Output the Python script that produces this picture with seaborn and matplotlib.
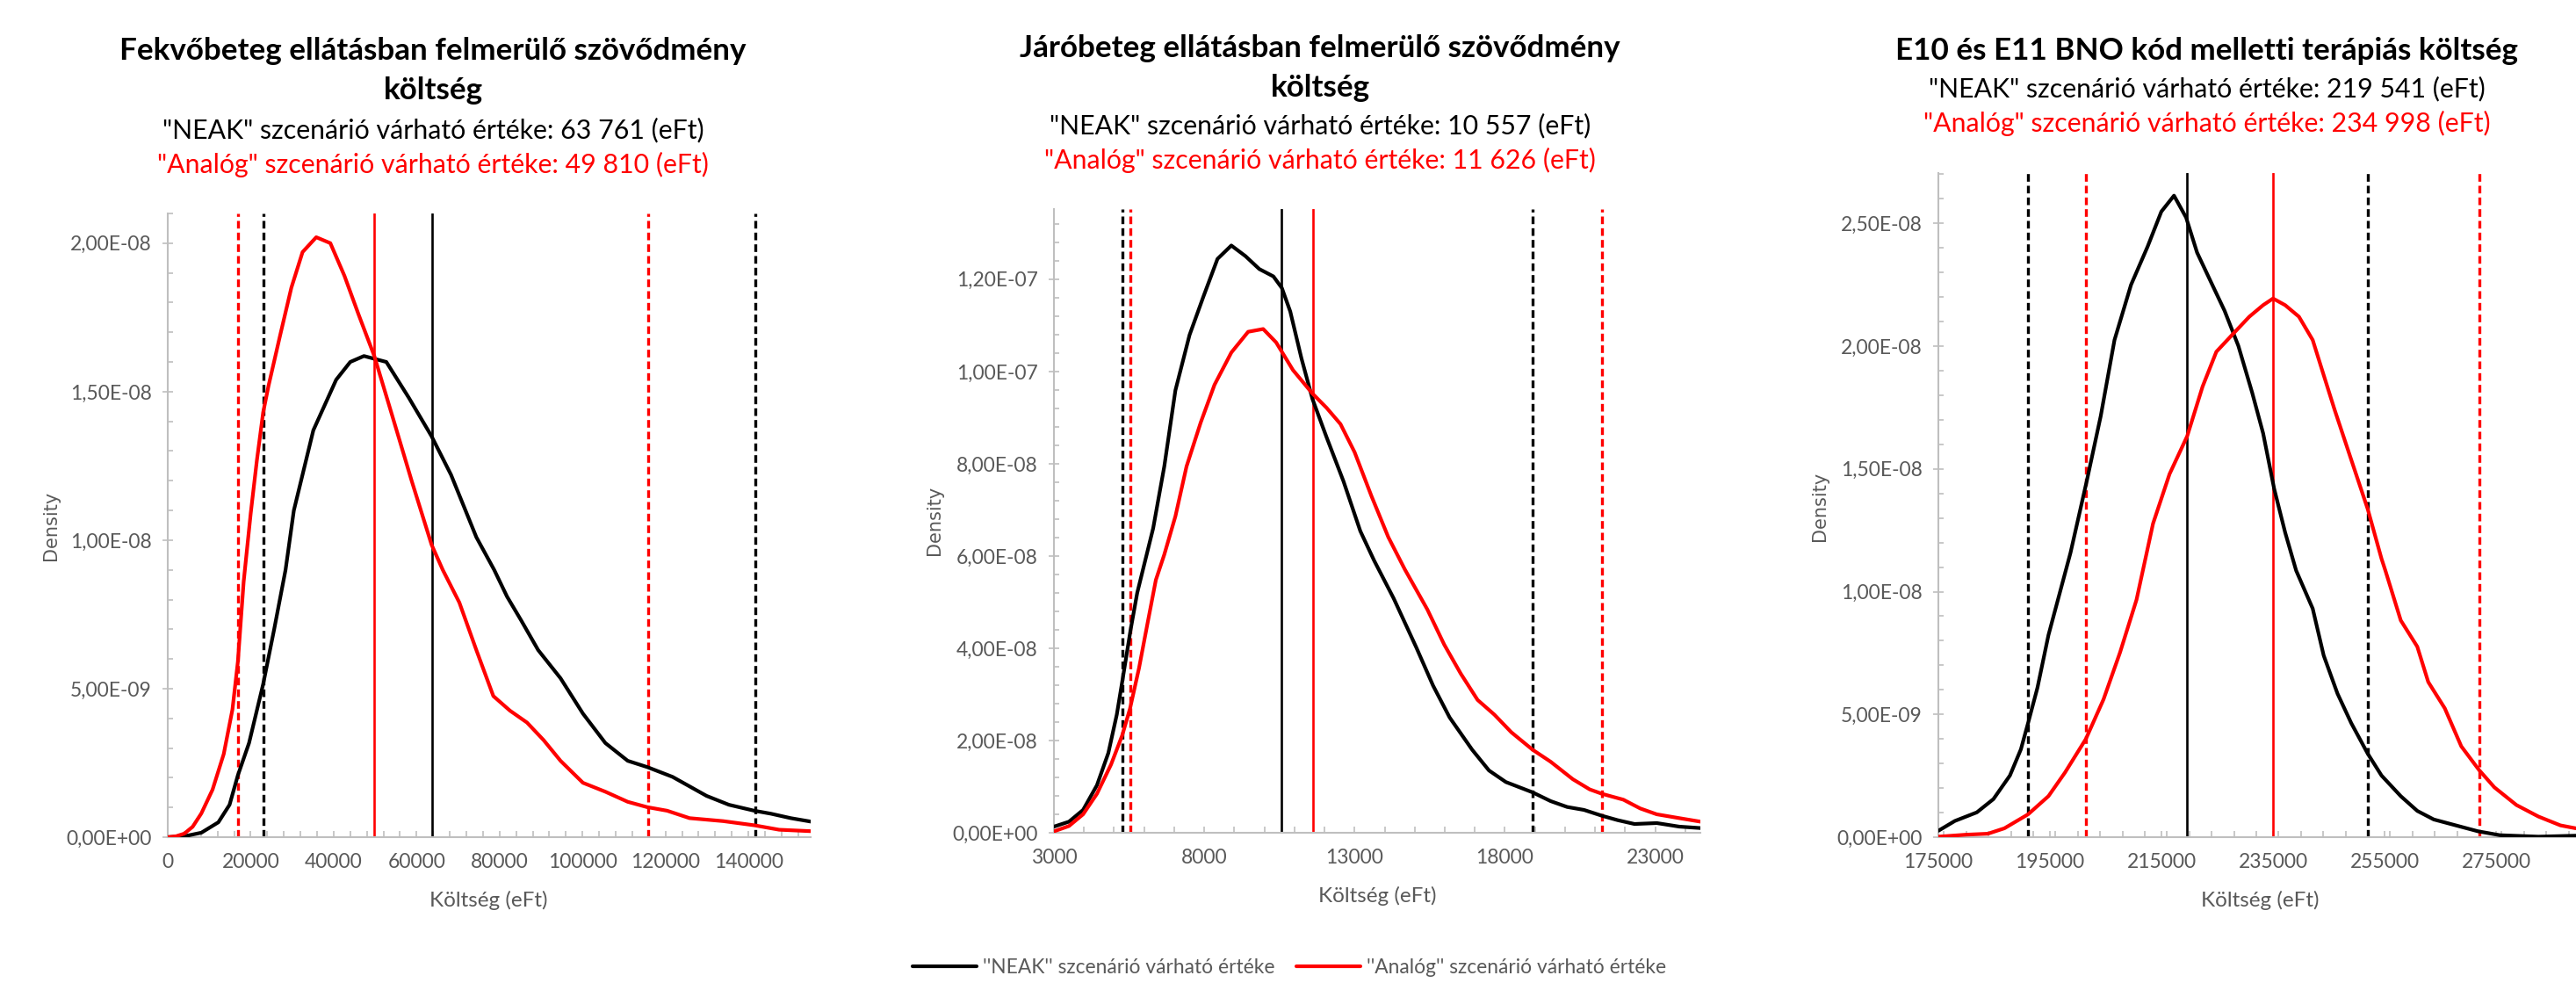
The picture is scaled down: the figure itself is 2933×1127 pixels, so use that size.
# Density curves of the three cost components, NEAK vs Analóg scenario

import numpy as np
import pandas as pd
import matplotlib.pyplot as plt
import matplotlib.ticker as mticker
from matplotlib.lines import Line2D
import seaborn as sns

sns.set_theme(style="white")
plt.rcParams['font.family'] = ['Lato', 'DejaVu Sans']

W, H = 2933, 1127
GRAY = '#595959'
AXIS = '#BFBFBF'
COLORS = {'NEAK': 'black', 'Analóg': 'red'}

# ---- data (density in 1e-9 units) ----
fekvo_neak_x = [0, 4000, 8100, 12200, 14900, 16900, 19600, 23000, 25700, 28400, 30400, 35100,
                40600, 44000, 47300, 52700, 58100, 63600, 68300, 74400, 78700, 81800, 85200,
                89300, 94700, 100100, 105500, 110900, 115600, 121700, 129900, 135300, 141400,
                145400, 150200, 155200]
fekvo_neak_y = [0, 0.03, 0.15, 0.5, 1.09, 2.08, 3.17, 5.15, 7.03, 9.0, 11.0, 13.7,
                15.4, 16.0, 16.2, 16.0, 14.8, 13.5, 12.2, 10.1, 9.0, 8.1, 7.3,
                6.3, 5.35, 4.16, 3.17, 2.57, 2.36, 2.03, 1.39, 1.09, 0.89,
                0.79, 0.64, 0.52]
fekvo_analog_x = [0, 2000, 4000, 6000, 8100, 10800, 13500, 15600, 16900, 18300, 20000, 21500,
                  23000, 24300, 27100, 29800, 32500, 35800, 39200, 42600, 46000, 49800, 54100,
                  58800, 63600, 66300, 70300, 74400, 78500, 82500, 86600, 90600, 94700, 100100,
                  105500, 110900, 115600, 120400, 125800, 133900, 141400, 147400, 155200]
fekvo_analog_y = [0, 0.03, 0.12, 0.35, 0.8, 1.6, 2.8, 4.3, 5.9, 8.6, 10.9, 12.7,
                  14.3, 15.2, 16.9, 18.5, 19.7, 20.2, 20.0, 18.9, 17.6, 16.2, 14.2,
                  12.0, 9.85, 9.0, 7.9, 6.3, 4.75, 4.26, 3.86, 3.27, 2.57, 1.83,
                  1.53, 1.19, 1.01, 0.89, 0.64, 0.54, 0.40, 0.25, 0.2]

jaro_neak_x = [3000, 3500, 3970, 4430, 4810, 5090, 5290, 5550, 5770, 6300, 6670, 7040, 7510,
               7970, 8440, 8900, 9370, 9830, 10300, 10580, 10860, 11230, 11600, 12070, 12630,
               13190, 13650, 14300, 15050, 15610, 16160, 16910, 17470, 18030, 18920, 19520,
               20070, 20630, 21230, 21750, 22310, 23050, 23800, 24500]
jaro_neak_y = [1.33, 2.4, 4.95, 10.3, 17.3, 25.6, 33.5, 44.0, 52.0, 66.0, 79.4, 95.9, 107.9,
               116.2, 124.4, 127.3, 125.0, 122.2, 120.6, 118.1, 113.0, 102.9, 94.0, 85.7, 76.2,
               65.4, 59.0, 50.8, 40.2, 31.9, 25.0, 18.0, 13.5, 11.0, 8.76, 6.86,
               5.59, 4.95, 3.68, 2.73, 1.90, 2.1, 1.33, 1.02]
jaro_analog_x = [3000, 3500, 3970, 4430, 4900, 5270, 5530, 5830, 6110, 6390, 6670, 7040, 7410,
                 7880, 8340, 8900, 9460, 9960, 10390, 10950, 11600, 12070, 12530, 13000, 13560,
                 14120, 14670, 15420, 15980, 16530, 17090, 17650, 18210, 18920, 19520, 20260,
                 20820, 21230, 21940, 22500, 23050, 23800, 24500]
jaro_analog_y = [0.3, 1.46, 4.0, 8.44, 14.8, 21.1, 26.9, 35.7, 45.3, 54.8, 60.3, 68.6, 79.4,
                 88.9, 97.1, 104.1, 108.6, 109.2, 106.3, 100.3, 95.2, 92.1, 88.6, 82.5, 73.0,
                 64.1, 57.1, 48.4, 40.8, 34.5, 28.8, 25.6, 21.8, 18.0, 15.4, 11.6,
                 9.4, 8.44, 7.17, 5.27, 4.0, 3.17, 2.41]

terapia_neak_x = [175000, 177960, 181900, 184870, 187830, 189800, 191090, 192770, 194740, 196710,
                  198690, 201650, 204120, 206580, 209550, 212510, 214980, 217250, 219420, 221390,
                  223860, 226320, 228790, 231260, 233230, 235210, 237180, 239150, 242120, 244090,
                  246560, 249020, 251990, 254460, 257910, 260870, 263830, 267780, 271730, 275680,
                  282590, 289300]
terapia_neak_y = [0.26, 0.66, 1.01, 1.55, 2.51, 3.58, 4.65, 6.09, 8.23, 9.9,
                  11.58, 14.55, 17.16, 20.25, 22.5, 24.05, 25.48, 26.13, 25.24, 23.81,
                  22.62, 21.44, 20.01, 18.11, 16.45, 14.19, 12.41, 10.86, 9.31, 7.40,
                  5.85, 4.65, 3.40, 2.51, 1.67, 1.07, 0.72, 0.48, 0.24, 0.08,
                  0.02, 0.06]
terapia_analog_x = [175000, 179940, 183880, 186840, 191090, 194740, 197700, 201450, 204610, 207570,
                    210530, 213490, 216450, 219610, 222370, 224840, 227800, 230760, 233230, 235010,
                    237180, 239650, 242120, 244090, 246060, 249020, 251990, 254460, 255150, 257910,
                    260870, 262840, 265800, 268760, 271930, 274690, 278640, 282590, 286540, 289300]
terapia_analog_y = [0.02, 0.1, 0.14, 0.36, 0.93, 1.67, 2.63, 4.0, 5.61, 7.52,
                    9.67, 12.77, 14.79, 16.33, 18.35, 19.77, 20.49, 21.2, 21.67, 21.94,
                    21.67, 21.2, 20.25, 18.82, 17.4, 15.38, 13.36, 11.34, 10.86, 8.83,
                    7.76, 6.32, 5.25, 3.70, 2.74, 2.03, 1.31, 0.84, 0.48, 0.36]

# expected values (solid) and interval bounds (dashed)
neak_means = [63761, 10557, 219541]
analog_means = [49810, 11626, 234998]
neak_bounds = [(23000, 141600), (5290, 18920), (191090, 251990)]
analog_bounds = [(16900, 115900), (5530, 21230), (201450, 271930)]

titles = [["Fekvőbeteg ellátásban felmerülő szövődmény", "költség"],
          ["Járóbeteg ellátásban felmerülő szövődmény", "költség"],
          ["E10 és E11 BNO kód melletti terápiás költség"]]
neak_lines = ['"NEAK" szcenárió várható értéke: 63 761 (eFt)',
              '"NEAK" szcenárió várható értéke: 10 557 (eFt)',
              '"NEAK" szcenárió várható értéke: 219 541 (eFt)']
analog_lines = ['"Analóg" szcenárió várható értéke: 49 810 (eFt)',
                '"Analóg" szcenárió várható értéke: 11 626 (eFt)',
                '"Analóg" szcenárió várható értéke: 234 998 (eFt)']
legend_labels = ["''NEAK'' szcenárió várható értéke", "''Analóg'' szcenárió várható értéke"]

curves = [(fekvo_neak_x, fekvo_neak_y, fekvo_analog_x, fekvo_analog_y),
          (jaro_neak_x, jaro_neak_y, jaro_analog_x, jaro_analog_y),
          (terapia_neak_x, terapia_neak_y, terapia_analog_x, terapia_analog_y)]

# ---- layout in pixels ----
axes_px = [(191, 923, 243, 953), (1200, 1936, 238, 948), (2207, 2969, 197, 953)]
xlims = [(0, 155000), (3000, 24500), (175000, 295000)]
xmajor = [(0, 140001, 20000), (3000, 23001, 5000), (175000, 275001, 20000)]
xminor = [4000, 1000, 4000]
ylims = [(0, 2.1e-8), (0, 1.352e-7), (0, 2.705e-8)]
ymajor = [5e-9, 2e-8, 5e-9]
yminor = [1e-9, 4e-9, 1e-9]
title_cx = [493, 1503, 2513]
title_base = [[68, 113, 157, 197], [65, 110, 152, 192], [68, 110, 150]]
density_pos = [(58, 598), (1064, 592), (2072, 576)]
xlabel_pos = [(556, 1025), (1568, 1020), (2573, 1025)]

fig = plt.figure(figsize=(W / 100, H / 100), dpi=100)


def fx(px):
    return px / W


def fy(py):
    return 1 - py / H


yfmt = mticker.FuncFormatter(lambda v, p: f"{v:.2E}".replace('.', ','))
xfmt = mticker.FuncFormatter(lambda v, p: f"{v:.0f}")

for i in range(3):
    l, r, t, b = axes_px[i]
    ax = fig.add_axes([fx(l), fy(b), (r - l) / W, (b - t) / H])
    nx, ny, ax_, ay = curves[i]
    df = pd.concat([
        pd.DataFrame({'x': nx, 'density': np.array(ny) * 1e-9, 'scenario': 'NEAK'}),
        pd.DataFrame({'x': ax_, 'density': np.array(ay) * 1e-9, 'scenario': 'Analóg'}),
    ])

    # vertical reference lines
    for lo_hi, mean, col in [(neak_bounds[i], neak_means[i], 'black'),
                             (analog_bounds[i], analog_means[i], 'red')]:
        for v in lo_hi:
            ax.axvline(v, color=col, lw=2.4, dashes=(2.6, 1.4), zorder=2)
        ax.axvline(mean, color=col, lw=1.9, zorder=2)

    sns.lineplot(data=df, x='x', y='density', hue='scenario', palette=COLORS,
                 linewidth=3.0, legend=False, ax=ax, zorder=3, sort=False)

    ax.set_xlim(*xlims[i])
    ax.set_ylim(*ylims[i])
    ax.set_xticks(np.arange(*xmajor[i]))
    ax.xaxis.set_minor_locator(mticker.MultipleLocator(xminor[i]))
    ax.yaxis.set_major_locator(mticker.MultipleLocator(ymajor[i]))
    ax.yaxis.set_minor_locator(mticker.MultipleLocator(yminor[i]))
    ax.xaxis.set_major_formatter(xfmt)
    ax.yaxis.set_major_formatter(yfmt)
    ax.set_xlabel('')
    ax.set_ylabel('')

    for s in ['top', 'right']:
        ax.spines[s].set_visible(False)
    for s in ['left', 'bottom']:
        ax.spines[s].set_color(AXIS)
        ax.spines[s].set_linewidth(1.5)
    ax.tick_params(axis='x', which='both', direction='in', length=5, width=1.2,
                   color=AXIS, labelsize=16.5, labelcolor=GRAY, pad=13, bottom=True)
    ax.tick_params(axis='y', which='major', direction='inout', length=8, width=1.2,
                   color=AXIS, labelsize=16.5, labelcolor=GRAY, pad=9, left=True)
    ax.tick_params(axis='y', which='minor', direction='in', length=4, width=1.2,
                   color=AXIS, left=True)

    # titles
    cx = fx(title_cx[i])
    bases = title_base[i]
    for j, line in enumerate(titles[i]):
        fig.text(cx, fy(bases[j]), line, ha='center', va='baseline',
                 fontsize=25.2, fontweight='bold', color='black')
    k = len(titles[i])
    fig.text(cx, fy(bases[k]), neak_lines[i], ha='center', va='baseline',
             fontsize=21.8, color='black')
    fig.text(cx, fy(bases[k + 1]), analog_lines[i], ha='center', va='baseline',
             fontsize=21.8, color='red')

    dx, dy = density_pos[i]
    fig.text(fx(dx), fy(dy), 'Density', rotation=90, ha='center', va='center',
             fontsize=15, color=GRAY, family='DejaVu Sans')
    lx, ly = xlabel_pos[i]
    fig.text(fx(lx), fy(ly), 'Költség (eFt)', ha='center', va='center',
             fontsize=17.5, color=GRAY)

handles = [Line2D([], [], color='black', lw=3.0), Line2D([], [], color='red', lw=3.0)]
fig.legend(handles, legend_labels, loc='center', bbox_to_anchor=(fx(1468), fy(1101)),
           ncol=2, frameon=False, fontsize=16.4, labelcolor=GRAY,
           handlelength=3.2, handletextpad=0.3, columnspacing=1.1)

plt.savefig('out.png', dpi=100)
print("Figure save: out.png")
